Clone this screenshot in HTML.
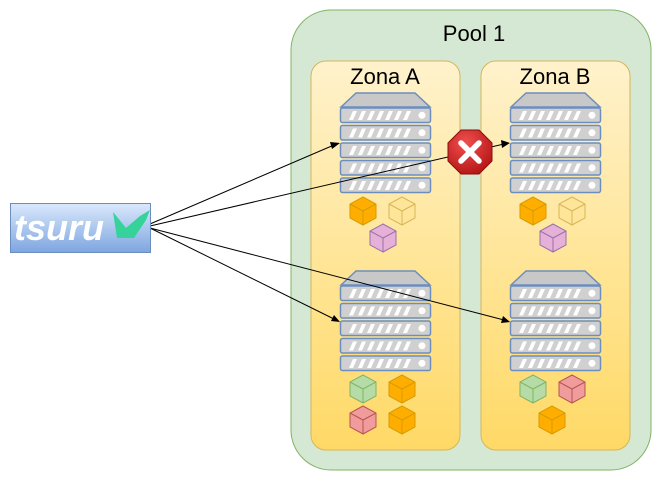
<!DOCTYPE html>
<html><head><meta charset="utf-8"><style>
html,body{margin:0;padding:0;background:#fff;width:661px;height:481px;overflow:hidden}
svg{display:block}
</style></head><body>
<svg width="661" height="481" viewBox="0 0 661 481" xmlns="http://www.w3.org/2000/svg">
<defs>
<linearGradient id="zg" x1="0" y1="0" x2="0" y2="1"><stop offset="0" stop-color="#fff2cc"/><stop offset="1" stop-color="#ffd966"/></linearGradient>
<linearGradient id="tg" x1="0" y1="0" x2="0" y2="1"><stop offset="0" stop-color="#dae8fc"/><stop offset="1" stop-color="#7ea6e0"/></linearGradient>
<radialGradient id="sg" cx="0.4" cy="0.3" r="0.8"><stop offset="0" stop-color="#f05050"/><stop offset="1" stop-color="#b01010"/></radialGradient>
<g id="unit">
<rect x="0.5" y="0" width="90" height="14.5" rx="2" fill="#d0d0d0" stroke="#6c8ebf" stroke-width="1.5"/>
<g fill="#fff"><polygon points="9,12 13,12 17,3 13,3"/><polygon points="18,12 22,12 26,3 22,3"/><polygon points="27,12 31,12 35,3 31,3"/><polygon points="36,12 40,12 44,3 40,3"/><polygon points="45,12 49,12 53,3 49,3"/><polygon points="54,12 58,12 62,3 58,3"/><polygon points="63,12 67,12 71,3 67,3"/></g>
<circle cx="82" cy="7.3" r="3.5" fill="#fff"/>
</g>
<g id="server">
<polygon points="1,14 16,0 75,0 90,14" fill="#c8c8c8" stroke="#6c8ebf" stroke-width="1.5"/>
<use href="#unit" y="15"/><use href="#unit" y="32.5"/><use href="#unit" y="50"/><use href="#unit" y="67.5"/><use href="#unit" y="85"/>
</g>
</defs>
<rect x="291" y="10" width="360" height="460" rx="40" fill="#d5e8d4" stroke="#82b366"/>
<text x="474" y="41" font-family="Liberation Sans, sans-serif" font-size="22" text-anchor="middle">Pool 1</text>
<rect x="311" y="61" width="149" height="389" rx="15" fill="url(#zg)" stroke="#d6b656"/>
<rect x="481" y="61" width="149" height="389" rx="15" fill="url(#zg)" stroke="#d6b656"/>
<text x="385" y="84" font-family="Liberation Sans, sans-serif" font-size="22" text-anchor="middle">Zona A</text>
<text x="555" y="84" font-family="Liberation Sans, sans-serif" font-size="22" text-anchor="middle">Zona B</text>
<use href="#server" x="340" y="93"/>
<use href="#server" x="510" y="93"/>
<use href="#server" x="340" y="271"/>
<use href="#server" x="510" y="271"/>
<g stroke-width="1">
<g transform="translate(363,211)"><polygon points="0,-14 13,-7 13,7 0,14 -13,7 -13,-7" fill="#ffae00" stroke="#d79b00"/><polyline points="-13,-7 0,0 13,-7 M0,0" fill="none" stroke="#d79b00"/><line x1="0" y1="0" x2="0" y2="14" stroke="#d79b00"/></g>
<g transform="translate(402,211)"><polygon points="0,-14 13,-7 13,7 0,14 -13,7 -13,-7" fill="#ffe599" stroke="#d6b656"/><polyline points="-13,-7 0,0 13,-7" fill="none" stroke="#d6b656"/><line x1="0" y1="0" x2="0" y2="14" stroke="#d6b656"/></g>
<g transform="translate(383,238)"><polygon points="0,-14 13,-7 13,7 0,14 -13,7 -13,-7" fill="#e6b0d8" stroke="#9673a6"/><polyline points="-13,-7 0,0 13,-7" fill="none" stroke="#9673a6"/><line x1="0" y1="0" x2="0" y2="14" stroke="#9673a6"/></g>
<g transform="translate(533,211)"><polygon points="0,-14 13,-7 13,7 0,14 -13,7 -13,-7" fill="#ffae00" stroke="#d79b00"/><polyline points="-13,-7 0,0 13,-7" fill="none" stroke="#d79b00"/><line x1="0" y1="0" x2="0" y2="14" stroke="#d79b00"/></g>
<g transform="translate(572,211)"><polygon points="0,-14 13,-7 13,7 0,14 -13,7 -13,-7" fill="#ffe599" stroke="#d6b656"/><polyline points="-13,-7 0,0 13,-7" fill="none" stroke="#d6b656"/><line x1="0" y1="0" x2="0" y2="14" stroke="#d6b656"/></g>
<g transform="translate(553,238)"><polygon points="0,-14 13,-7 13,7 0,14 -13,7 -13,-7" fill="#e6b0d8" stroke="#9673a6"/><polyline points="-13,-7 0,0 13,-7" fill="none" stroke="#9673a6"/><line x1="0" y1="0" x2="0" y2="14" stroke="#9673a6"/></g>
<g transform="translate(363,389)"><polygon points="0,-14 13,-7 13,7 0,14 -13,7 -13,-7" fill="#b5dca6" stroke="#82b366"/><polyline points="-13,-7 0,0 13,-7" fill="none" stroke="#82b366"/><line x1="0" y1="0" x2="0" y2="14" stroke="#82b366"/></g>
<g transform="translate(402,389)"><polygon points="0,-14 13,-7 13,7 0,14 -13,7 -13,-7" fill="#ffae00" stroke="#d79b00"/><polyline points="-13,-7 0,0 13,-7" fill="none" stroke="#d79b00"/><line x1="0" y1="0" x2="0" y2="14" stroke="#d79b00"/></g>
<g transform="translate(363,420)"><polygon points="0,-14 13,-7 13,7 0,14 -13,7 -13,-7" fill="#f19c9c" stroke="#b85450"/><polyline points="-13,-7 0,0 13,-7" fill="none" stroke="#b85450"/><line x1="0" y1="0" x2="0" y2="14" stroke="#b85450"/></g>
<g transform="translate(402,420)"><polygon points="0,-14 13,-7 13,7 0,14 -13,7 -13,-7" fill="#ffae00" stroke="#d79b00"/><polyline points="-13,-7 0,0 13,-7" fill="none" stroke="#d79b00"/><line x1="0" y1="0" x2="0" y2="14" stroke="#d79b00"/></g>
<g transform="translate(533,389)"><polygon points="0,-14 13,-7 13,7 0,14 -13,7 -13,-7" fill="#b5dca6" stroke="#82b366"/><polyline points="-13,-7 0,0 13,-7" fill="none" stroke="#82b366"/><line x1="0" y1="0" x2="0" y2="14" stroke="#82b366"/></g>
<g transform="translate(572,389)"><polygon points="0,-14 13,-7 13,7 0,14 -13,7 -13,-7" fill="#f19c9c" stroke="#b85450"/><polyline points="-13,-7 0,0 13,-7" fill="none" stroke="#b85450"/><line x1="0" y1="0" x2="0" y2="14" stroke="#b85450"/></g>
<g transform="translate(552,420)"><polygon points="0,-14 13,-7 13,7 0,14 -13,7 -13,-7" fill="#ffae00" stroke="#d79b00"/><polyline points="-13,-7 0,0 13,-7" fill="none" stroke="#d79b00"/><line x1="0" y1="0" x2="0" y2="14" stroke="#d79b00"/></g>
</g>
<g stroke="#000" stroke-width="1" fill="none">
<line x1="150" y1="224" x2="334" y2="145"/>
<line x1="150" y1="226" x2="504" y2="144"/>
<line x1="150" y1="228" x2="334" y2="319"/>
<line x1="150" y1="228" x2="504" y2="320"/>
</g>
<g fill="#000">
<polygon points="340,143 332,149 330,142"/>
<polygon points="510,143 502,148 501,140"/>
<polygon points="340,322 331,321 334,315"/>
<polygon points="510,322 501,323 503,316"/>
</g>
<g transform="translate(470,152)">
<polygon points="-9,-22 9,-22 22,-9 22,9 9,22 -9,22 -22,9 -22,-9" fill="url(#sg)" stroke="#8a0e0e" stroke-width="1"/>
<path d="M-9,-9 L9,9 M9,-9 L-9,9" stroke="#fff" stroke-width="5.5" stroke-linecap="round"/>
</g>
<rect x="10.5" y="203.5" width="140" height="49" fill="url(#tg)" stroke="#6c8ebf"/>
<text x="14" y="240" font-family="Liberation Sans, sans-serif" font-size="36" font-weight="bold" font-style="italic" fill="#fff">tsuru</text>
<polygon points="113,212 126,228 140,216 150,210 146,220 134,238 117,238" fill="#35d39a"/>
</svg>
</body></html>
